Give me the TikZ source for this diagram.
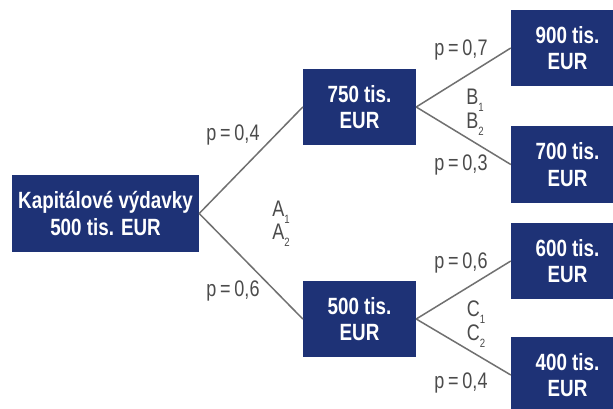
\documentclass[tikz,border=0pt]{standalone}
\usepackage{fontspec}
\setmainfont{Liberation Sans}
\newfontfamily\boxfont[FakeStretch=0.8]{Liberation Sans}
\newfontfamily\labfont[FakeStretch=0.8]{Liberation Sans}
\definecolor{navy}{RGB}{30,50,118}
\definecolor{edgegray}{RGB}{112,112,112}
\definecolor{labgray}{RGB}{75,75,75}
\newcommand{\idx}[1]{\raisebox{-0.55ex}{\fontsize{12}{12}\selectfont #1}}
\tikzset{
  valbox/.style={fill=navy, draw=none, inner sep=0pt, align=center,
    text=white, font=\boxfont\bfseries\fontsize{23.5}{26.5}\selectfont},
  midbox/.style={valbox, minimum width=113pt, minimum height=76pt},
  rootbox/.style={valbox, minimum width=187pt, minimum height=77pt},
  branch/.style={draw=edgegray, line width=1.5pt},
  prob/.style={inner sep=0pt, text=labgray, font=\labfont\fontsize{22.5}{24}\selectfont},
  event/.style={inner sep=0pt, text=labgray, font=\labfont\fontsize{22.5}{24}\selectfont}
}
\begin{document}
\begin{tikzpicture}[x=1pt, y=-1pt]
  \clip (0,0) rectangle (613,409);
  \fill[white] (0,0) rectangle (613,409);

  % decision tree boxes
  \node[rootbox] (root) at (105.5,213.5) {Kapitálové výdavky\\500 tis. EUR};
  \node[midbox] (a750) at (359.5,107) {750 tis.\\EUR};
  \node[midbox] (a500) at (359.5,319) {500 tis.\\EUR};
  \node[midbox] (b900) at (567.5,48) {900 tis.\\EUR};
  \node[midbox] (b700) at (567.5,164.5) {700 tis.\\EUR};
  \node[midbox] (c600) at (567.5,261) {600 tis.\\EUR};
  \node[midbox] (c400) at (567.5,375) {400 tis.\\EUR};

  % branches
  \draw[branch] (root.east) -- (a750.west);
  \draw[branch] (root.east) -- (a500.west);
  \draw[branch] (a750.east) -- (b900.west);
  \draw[branch] (a750.east) -- (b700.west);
  \draw[branch] (a500.east) -- (c600.west);
  \draw[branch] (a500.east) -- (c400.west);

  % probabilities
  \node[prob] (pa1) at (233,135) {p\,=\,0,4};
  \node[prob] (pa2) at (233,291) {p\,=\,0,6};
  \node[prob] (pb1) at (461,50) {p\,=\,0,7};
  \node[prob] (pb2) at (461,165) {p\,=\,0,3};
  \node[prob] (pc1) at (461,263) {p\,=\,0,6};
  \node[prob] (pc2) at (461,383) {p\,=\,0,4};

  % event names
  \node[event] (ea1) at (281,212) {A\idx{1}};
  \node[event] (ea2) at (281,235) {A\idx{2}};
  \node[event] (eb1) at (475,100) {B\idx{1}};
  \node[event] (eb2) at (475,124) {B\idx{2}};
  \node[event] (ec1) at (476,312) {C\idx{1}};
  \node[event] (ec2) at (476,336) {C\idx{2}};
\end{tikzpicture}
\end{document}
